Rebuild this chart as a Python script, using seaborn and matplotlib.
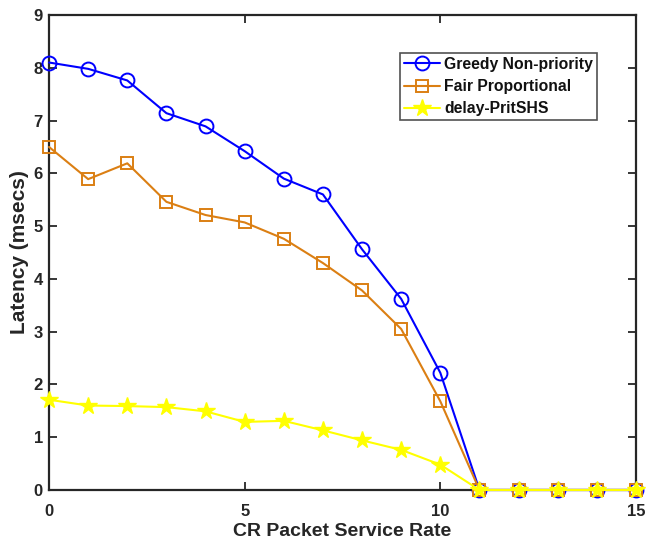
import matplotlib
matplotlib.use("Agg")
import matplotlib.pyplot as plt
import seaborn as sns
import pandas as pd

# Service rates and measured latencies (msecs)
rates = list(range(16))
greedy = [8.10, 7.98, 7.76, 7.14, 6.89, 6.42, 5.90, 5.60, 4.56, 3.62, 2.22, 0, 0, 0, 0, 0]
fair = [6.50, 5.89, 6.19, 5.46, 5.21, 5.07, 4.76, 4.30, 3.78, 3.05, 1.68, 0, 0, 0, 0, 0]
pritshs = [1.71, 1.60, 1.59, 1.57, 1.49, 1.29, 1.31, 1.13, 0.94, 0.76, 0.48, 0, 0, 0, 0, 0]

series_names = ["Greedy Non-priority", "Fair Proportional", "delay-PritSHS"]
x_ticks = [0, 5, 10, 15]
y_ticks = list(range(10))

sns.set_theme(style="white")
plt.rcParams["font.family"] = ["Liberation Sans", "DejaVu Sans"]
plt.rcParams["font.weight"] = "bold"

fig = plt.figure(figsize=(6.46, 5.44), dpi=100)
ax = fig.add_axes([0.0759, 0.0993, 0.9086, 0.8731])

styles = [
    dict(color="#0000FF", marker="o", markersize=10, markerfacecolor="none",
         markeredgecolor="#0000FF", markeredgewidth=1.4),
    dict(color="#DB7F13", marker="s", markersize=8, markerfacecolor="none",
         markeredgecolor="#DB7F13", markeredgewidth=1.4),
    dict(color="#FFFF00", marker="*", markersize=13, markerfacecolor="#FFFF00",
         markeredgecolor="#FFFF00", markeredgewidth=1.0),
]

for name, vals, st in zip(series_names, [greedy, fair, pritshs], styles):
    df = pd.DataFrame({"rate": rates, "latency": vals})
    sns.lineplot(data=df, x="rate", y="latency", ax=ax, label=name,
                 linewidth=1.5, clip_on=False, zorder=3, **st)

ax.set_xlim(0, 15)
ax.set_ylim(0, 9)
ax.set_xticks(x_ticks)
ax.set_yticks(y_ticks)
ax.set_xticklabels([str(t) for t in x_ticks], fontsize=12, fontweight="bold", color="#262626")
ax.set_yticklabels([str(t) for t in y_ticks], fontsize=12, fontweight="bold", color="#262626")
ax.tick_params(direction="in", length=6, width=1.3, colors="#262626",
               top=True, right=True, bottom=True, left=True)
ax.tick_params(axis="x", pad=10)
ax.tick_params(axis="y", pad=4.5)

ax.set_xlabel("CR Packet Service Rate", fontsize=14, fontweight="bold", color="#262626", labelpad=3)
ax.set_ylabel("Latency (msecs)", fontsize=15, fontweight="bold", color="#262626", labelpad=3)

for sp in ax.spines.values():
    sp.set_linewidth(1.6)
    sp.set_color("#262626")
    sp.set_zorder(2)

leg = ax.legend(loc="upper left", bbox_to_anchor=(0.598, 0.92), fontsize=11.3,
                frameon=True, fancybox=False, handlelength=2.3, handletextpad=0.25,
                borderpad=0.25, labelspacing=0.45, borderaxespad=0)
leg.get_frame().set_edgecolor("#262626")
leg.get_frame().set_linewidth(1.2)
for t in leg.get_texts():
    t.set_fontweight("bold")
    t.set_color("#111111")

fig.savefig("out.png", dpi=100)
